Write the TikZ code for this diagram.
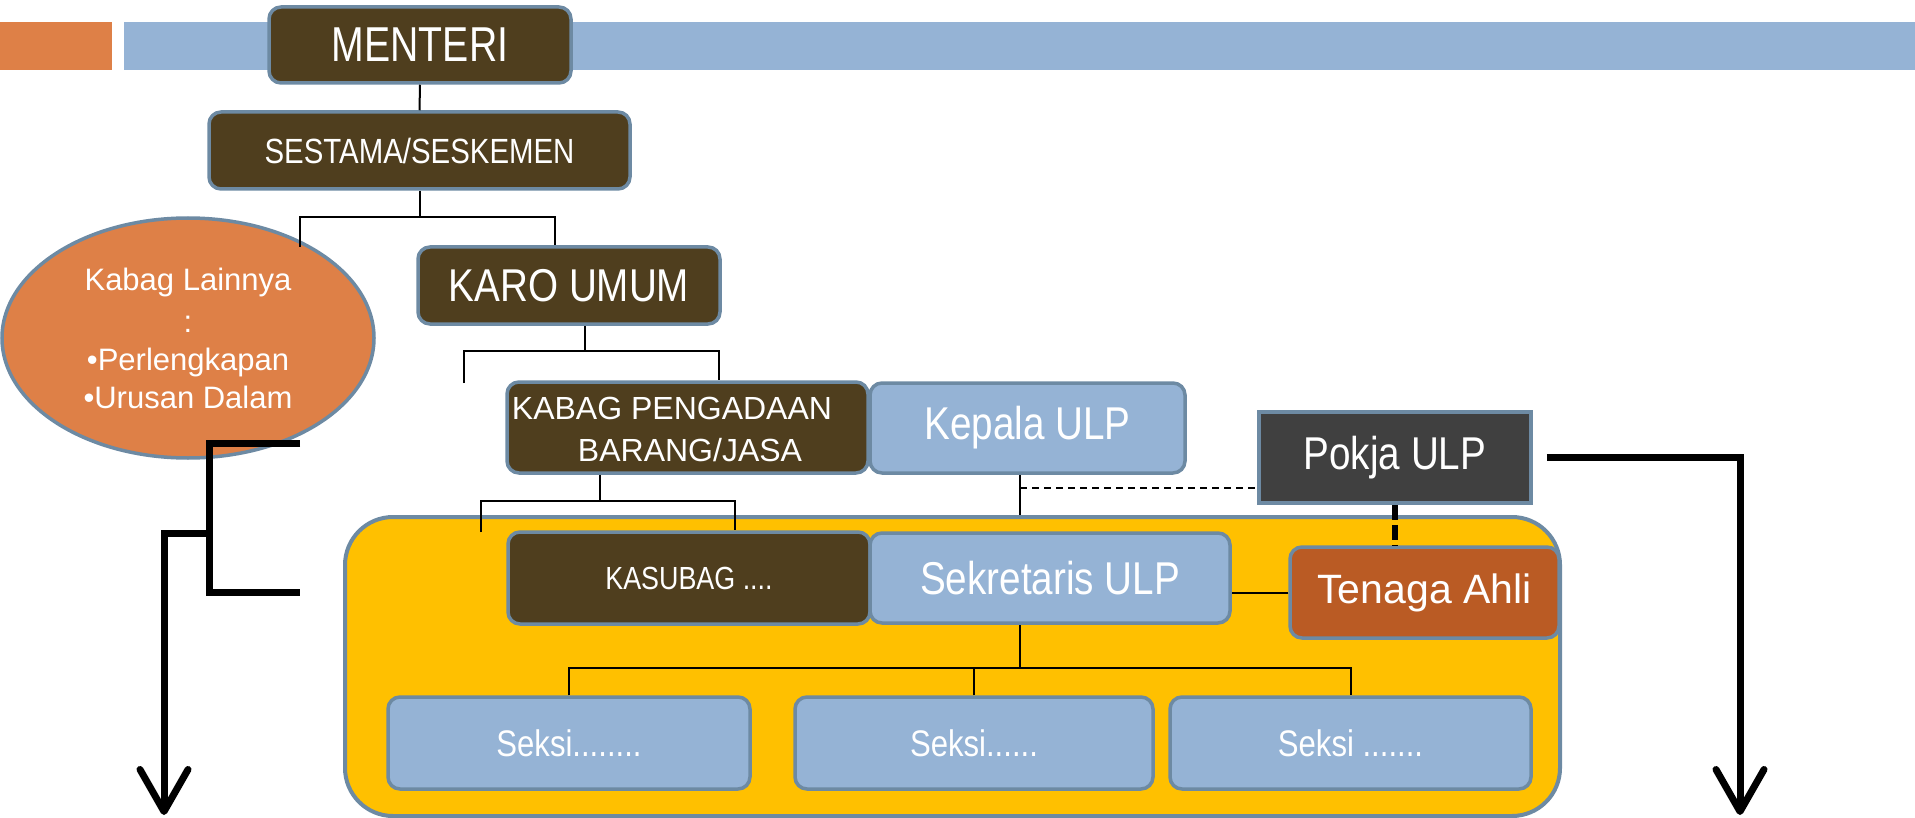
\documentclass[tikz,border=0pt]{standalone}
\usepackage{fontspec}
\setmainfont{Liberation Sans}
\newfontfamily\cf{Liberation Sans}[FakeStretch=0.84]
\newfontfamily\cfm{Liberation Sans}[FakeStretch=0.8]
\usetikzlibrary{arrows.meta,shapes.geometric}
\definecolor{brn}{HTML}{4F3E1E}
\definecolor{lblue}{HTML}{95B3D5}
\definecolor{bord}{HTML}{6D8AA3}
\definecolor{org}{HTML}{DE8047}
\definecolor{ylw}{HTML}{FFC000}
\definecolor{rust}{HTML}{BA5B24}
\definecolor{dgray}{HTML}{404040}
\tikzset{
  box/.style={draw=bord, line width=1.75pt, rounded corners=6pt, inner sep=0pt, text=white, align=center},
  thinline/.style={line width=1pt, black},
  heavyline/.style={line width=3.5pt, black, line join=miter},
  bigarrow/.style={-{Straight Barb[length=21pt,width=24pt,round]}},
  fA/.style={font=\cfm\fontsize{24.5pt}{29pt}\selectfont},
  fB/.style={font=\cf\fontsize{23pt}{27pt}\selectfont},
  fC/.style={font=\cf\fontsize{17.5pt}{21pt}\selectfont},
  fD/.style={font=\cf\fontsize{16pt}{21pt}\selectfont},
  fE/.style={font=\fontsize{15.5pt}{19pt}\selectfont},
  fS/.style={font=\cf\fontsize{18.5pt}{22pt}\selectfont},
}
\begin{document}
\begin{tikzpicture}[x=0.5pt,y=-0.5pt]
\useasboundingbox (0,0) rectangle (1915,818);
% top bars
\fill[org] (0,22) rectangle (112,70);
\fill[lblue] (124,22) rectangle (1915,70);
% yellow container
\node[draw=bord, line width=2pt, fill=ylw, rounded corners=24pt, minimum width=607.5pt, minimum height=149.5pt, inner sep=0pt] (ulp) at (952.5,666.5) {};
% ellipse
\node[ellipse, draw=bord, line width=1.75pt, fill=org, minimum width=186pt, minimum height=120pt, inner sep=0pt, text=white, align=center, fE] (lain) at (188,338)
  {Kabag Lainnya\\[2pt]:\\•Perlengkapan\\•Urusan Dalam};
% boxes
\node[box, fill=brn, minimum width=151pt, minimum height=38pt, fA] (menteri) at (420,45) {MENTERI};
\node[box, fill=brn, minimum width=210.5pt, minimum height=38.5pt, fC] (sestama) at (419.5,150.5) {SESTAMA/SESKEMEN};
\node[box, fill=brn, minimum width=151pt, minimum height=38.5pt, fB] (karo) at (569,285.5) {KARO UMUM};
\node[box, fill=brn, minimum width=180.5pt, minimum height=45.5pt] (kabag) at (687.5,427.5) {};
\node[text=white, align=center, inner sep=0pt, font=\fontsize{16pt}{21pt}\selectfont] (kabagtext) at (672,429) {KABAG PENGADAAN\\\hspace*{18pt}BARANG/JASA};
\node[box, fill=lblue, minimum width=157.5pt, minimum height=45pt, fB] (kepala) at (1027.5,428) {Kepala ULP};
\node[box, rounded corners=0pt, fill=dgray, minimum width=136pt, minimum height=45.5pt, fB] (pokja) at (1395,457.5) {Pokja ULP};
\node[box, fill=brn, minimum width=181pt, minimum height=46pt, fD] (kasubag) at (689,578) {KASUBAG ....};
\node[box, fill=lblue, minimum width=180pt, minimum height=45pt, fB] (sekretaris) at (1050,578) {Sekretaris ULP};
\node[box, fill=rust, minimum width=134.5pt, minimum height=45.5pt, font=\fontsize{20.5pt}{24pt}\selectfont] (tenaga) at (1424.5,592.5) {Tenaga Ahli};
\node[box, fill=lblue, minimum width=181pt, minimum height=46pt, fS] (seksi1) at (569,743) {Seksi........};
\node[box, fill=lblue, minimum width=179pt, minimum height=46pt, fS] (seksi2) at (974,743) {Seksi......};
\node[box, fill=lblue, minimum width=180.5pt, minimum height=46pt, fS] (seksi3) at (1350.5,743) {Seksi .......};
% junction coordinates
\coordinate (s1) at (419.5,217); \coordinate (s1l) at (300,217); \coordinate (s1r) at (555,217); \coordinate (s1e) at (300,247);
\coordinate (k1) at (585,351); \coordinate (k1l) at (464,351); \coordinate (k1r) at (719,351); \coordinate (k1e) at (464,383);
\coordinate (b1) at (600,501); \coordinate (b1l) at (481,501); \coordinate (b1r) at (735,501); \coordinate (b1e) at (481,532);
\coordinate (p1) at (1020,488);
\coordinate (q1) at (1020,668);
% thin connectors
\draw[thinline] (menteri.south) -- (sestama.north);
\draw[thinline] (sestama.south) -- (s1);
\draw[thinline] (s1e) -- (s1l) -- (s1r) -- (s1r |- karo.north);
\draw[thinline] (k1 |- karo.south) -- (k1);
\draw[thinline] (k1e) -- (k1l) -- (k1r) -- (k1r |- kabag.north);
\draw[thinline] (b1 |- kabag.south) -- (b1);
\draw[thinline] (b1e) -- (b1l) -- (b1r) -- (b1r |- kasubag.north);
\draw[thinline] (p1 |- kepala.south) -- (p1 |- ulp.north);
\draw[thinline, dash pattern=on 3.5pt off 2.5pt] (p1) -- (p1 -| pokja.west);
\draw[line width=3pt, dash pattern=on 7.5pt off 2.5pt] (pokja.south) -- (pokja.south |- tenaga.north);
\draw[thinline] (tenaga.west) -- (tenaga.west -| sekretaris.east);
\draw[thinline] (q1 |- sekretaris.south) -- (q1);
\draw[thinline] (seksi1.north) -- (seksi1.north |- q1) -- (seksi3.north |- q1) -- (seksi3.north);
\draw[thinline] (seksi2.north) -- (seksi2.north |- q1);
% heavy bracket and arrows
\coordinate (t1) at (300,443); \coordinate (t2) at (209,443); \coordinate (t3) at (209,592); \coordinate (t4) at (300,592);
\coordinate (t5) at (209,533); \coordinate (t6) at (164,533); \coordinate (t7) at (164,815);
\coordinate (r2) at (1740,815);
\draw[heavyline] (t1) -- (t2) -- (t3) -- (t4);
\draw[heavyline, bigarrow] (t5) -- (t6) -- (t7);
\draw[heavyline, bigarrow, shorten <=7pt] (pokja.east) -| (r2);
\end{tikzpicture}
\end{document}
